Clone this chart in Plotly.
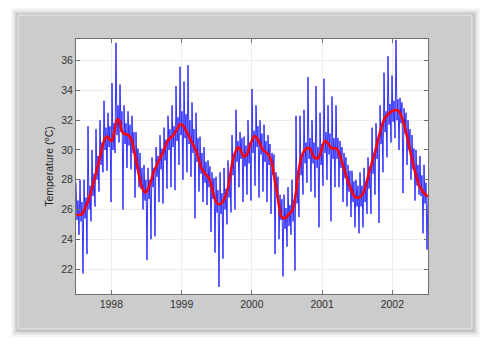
import numpy as np
import plotly.graph_objects as go

# Sea-surface temperature record sampled every ~5 days, deg C
daily_temp = [
    # mid 1997 - mid 1998
    27.8, 25.3, 26.6, 24.3, 28.0, 25.2, 26.5, 21.7, 28.0, 25.4, 26.8, 23.0,
    31.6, 26.0, 27.6, 25.2, 30.0, 26.9, 28.4, 26.2, 31.4, 28.0, 29.6, 27.2,
    32.0, 29.0, 30.5, 28.5, 33.3, 30.0, 31.5, 28.6, 32.5, 30.2, 31.6, 26.5,
    34.5, 30.0, 31.8, 29.8, 37.2, 31.0, 33.0, 30.5, 34.4, 31.2, 32.6, 26.0,
    33.0, 30.4, 31.8, 28.8, 32.6, 30.3, 31.7, 28.7, 32.3, 29.8, 31.2, 26.8,
    31.2, 28.7, 30.1, 27.5, 29.8, 27.4, 28.8, 26.0, 29.0, 26.6, 28.0, 22.6,
    28.8, 26.7, 28.0, 24.0,
    # mid 1998 - mid 1999
    29.5, 27.5, 28.8, 24.2, 30.2, 28.2, 29.6, 26.5, 31.0, 28.7, 30.1, 26.4,
    31.5, 29.3, 30.7, 27.4, 32.3, 30.0, 31.4, 27.5, 33.0, 30.2, 31.6, 27.3,
    34.3, 30.6, 32.2, 29.0, 35.6, 31.0, 32.6, 28.0, 34.6, 30.8, 32.4, 28.5,
    35.7, 30.4, 32.0, 28.2, 33.2, 29.8, 31.4, 25.4, 32.5, 29.2, 30.8, 27.2,
    30.9, 28.4, 29.8, 26.5, 30.2, 27.8, 29.2, 26.3, 29.3, 27.5, 28.9, 24.5,
    28.5, 26.7, 28.1, 23.1, 28.2, 25.8, 27.3, 20.8, 28.5, 25.7, 27.1, 22.7,
    # mid 1999 - mid 2000
    28.8, 26.0, 27.4, 25.0, 29.3, 26.8, 28.2, 25.8, 31.0, 28.3, 29.7, 26.0,
    32.7, 29.2, 30.6, 27.5, 31.2, 29.4, 30.8, 26.5, 30.9, 28.9, 30.3, 27.0,
    32.0, 29.1, 30.5, 26.6, 34.1, 29.8, 31.3, 27.6, 33.0, 30.2, 31.6, 26.8,
    32.0, 29.7, 31.1, 27.2, 31.7, 29.2, 30.6, 26.5, 31.0, 29.0, 30.4, 25.7,
    29.8, 28.3, 29.7, 23.0, 28.5, 26.8, 28.2, 24.0, 27.0, 25.3, 26.7, 21.5,
    27.0, 24.7, 26.1, 23.5, 27.5, 24.9, 26.3, 24.3, 28.0, 25.2, 26.6, 21.9,
    # mid 2000 - mid 2001
    32.3, 26.4, 27.8, 25.5, 32.3, 28.3, 29.7, 27.0, 32.7, 29.1, 30.5, 27.8,
    34.9, 29.4, 30.8, 27.2, 32.0, 29.1, 30.5, 26.8, 34.3, 28.8, 30.2, 24.8,
    32.5, 29.0, 30.4, 27.6, 34.8, 29.8, 31.2, 28.0, 33.0, 29.7, 31.1, 25.2,
    33.6, 29.4, 30.8, 27.5, 33.0, 29.4, 30.8, 27.5, 30.6, 28.8, 30.2, 26.5,
    29.8, 28.1, 29.5, 26.2, 29.0, 27.2, 28.6, 25.5, 28.6, 26.5, 27.9, 24.8,
    28.0, 26.2, 27.6, 24.4, 28.5, 26.2, 27.6, 24.8, 28.8, 26.5, 27.9, 25.7,
    # mid 2001 - mid 2002
    29.5, 27.4, 28.8, 25.7, 31.5, 28.4, 29.8, 27.0, 31.8, 29.4, 30.8, 25.1,
    33.0, 30.4, 31.8, 28.5, 35.2, 31.2, 32.6, 29.5, 36.3, 31.7, 33.1, 30.5,
    35.0, 31.9, 33.3, 30.8, 37.4, 32.0, 33.4, 30.0, 33.5, 31.8, 33.2, 27.1,
    32.8, 31.1, 32.5, 29.0, 32.0, 30.0, 31.4, 28.0, 31.0, 28.7, 30.1, 26.6,
    30.0, 27.6, 29.0, 27.0, 29.6, 26.9, 28.3, 24.4, 29.0, 26.4, 27.8, 23.3,
    27.0,
]
record_start, record_end = 1997.497, 2002.508

# Low-pass filtered temperature (seasonal signal)
smooth_year = [
    1997.502, 1997.578, 1997.626, 1997.697, 1997.768, 1997.839, 1997.910,
    1997.943, 1997.981, 1998.005, 1998.043, 1998.085, 1998.114, 1998.147,
    1998.180, 1998.242, 1998.289, 1998.336, 1998.384, 1998.431, 1998.488,
    1998.536, 1998.597, 1998.668, 1998.739, 1998.810, 1998.882, 1998.929,
    1998.976, 1999.014, 1999.071, 1999.142, 1999.213, 1999.284, 1999.332,
    1999.393, 1999.450, 1999.507, 1999.555, 1999.602, 1999.664, 1999.711,
    1999.758, 1999.806, 1999.839, 1999.886, 1999.934, 1999.981, 2000.043,
    2000.090, 2000.161, 2000.232, 2000.280, 2000.327, 2000.374, 2000.422,
    2000.469, 2000.517, 2000.578, 2000.626, 2000.668, 2000.716, 2000.777,
    2000.825, 2000.882, 2000.943, 2000.991, 2001.038, 2001.085, 2001.133,
    2001.204, 2001.275, 2001.346, 2001.417, 2001.464, 2001.521, 2001.583,
    2001.630, 2001.678, 2001.749, 2001.820, 2001.891, 2001.962, 2002.033,
    2002.090, 2002.142, 2002.199, 2002.256, 2002.318, 2002.379, 2002.436,
    2002.502,
]
smooth_temp = [
    25.63, 25.67, 26.08, 26.97, 28.20, 29.55, 30.78, 30.90, 30.67, 30.60,
    31.23, 32.06, 32.00, 31.30, 31.10, 31.00, 30.67, 29.66, 28.54, 27.53,
    27.13, 27.53, 28.43, 29.21, 29.88, 30.67, 31.00, 31.34, 31.72, 31.68,
    31.23, 30.56, 29.88, 28.76, 28.43, 28.09, 27.08, 26.41, 26.37, 26.64,
    27.53, 28.88, 29.77, 30.18, 30.00, 29.55, 29.73, 30.44, 30.94, 30.67,
    30.00, 29.73, 29.21, 27.98, 26.64, 25.52, 25.40, 25.63, 25.96, 27.08,
    28.65, 29.66, 30.11, 30.11, 29.55, 29.44, 30.00, 30.62, 30.44, 30.11,
    30.11, 29.32, 28.20, 27.31, 26.86, 26.79, 27.08, 27.76, 28.65, 29.77,
    31.12, 32.12, 32.50, 32.68, 32.62, 32.12, 31.12, 29.88, 28.65, 27.64,
    27.20, 26.86,
]

year_ticks = [1998, 1999, 2000, 2001, 2002]
temp_ticks = [22, 24, 26, 28, 30, 32, 34, 36]

daily_year = np.linspace(record_start, record_end, len(daily_temp))

fig = go.Figure()
fig.add_trace(go.Scatter(
    x=daily_year, y=daily_temp, mode="lines",
    line=dict(color="rgba(0,0,255,0.78)", width=1.0),
    hoverinfo="skip", showlegend=False,
))
fig.add_trace(go.Scatter(
    x=smooth_year, y=smooth_temp, mode="lines",
    line=dict(color="#ff0000", width=2.6, shape="spline", smoothing=0.8),
    showlegend=False,
))

# Page furniture: soft shadow, gray card, white axes box (pixel -> paper units)
L, R, T, B = 76, 428, 39, 294
W, H = R - L, B - T


def px(x):
    return (x - L) / W


def py(y):
    return (B - y) / H


shapes = []
for grow, alpha in [(7, 0.05), (5, 0.07), (3, 0.10), (1.5, 0.14)]:
    shapes.append(dict(
        type="rect", xref="paper", yref="paper", layer="below",
        x0=px(18 - grow), x1=px(472 + grow + 1), y0=py(329 + grow + 1), y1=py(15 - grow),
        fillcolor=f"rgba(60,60,60,{alpha})", line=dict(width=0),
    ))
shapes.append(dict(
    type="rect", xref="paper", yref="paper", layer="below",
    x0=px(18), x1=px(472), y0=py(329), y1=py(15),
    fillcolor="#cccccc", line=dict(color="#e9e9e9", width=1),
))
shapes.append(dict(
    type="rect", xref="paper", yref="paper", layer="below",
    x0=0, x1=1, y0=0, y1=1, fillcolor="#ffffff", line=dict(width=0),
))

axis_common = dict(
    showline=True, linecolor="#707070", linewidth=1, mirror="ticks",
    ticks="inside", ticklen=4, tickcolor="#707070",
    showgrid=True, gridcolor="#ececec", gridwidth=1, zeroline=False,
    tickfont=dict(family="Liberation Sans, Arial, sans-serif", size=10.5, color="#333333"),
)

fig.update_layout(
    width=488, height=344,
    margin=dict(l=L, r=488 - R, t=T, b=344 - B),
    paper_bgcolor="#ffffff", plot_bgcolor="#ffffff",
    shapes=shapes,
    xaxis=dict(range=[record_start, record_end], tickvals=year_ticks,
               ticktext=[str(y) for y in year_ticks], **axis_common),
    yaxis=dict(range=[20.32, 37.46], tickvals=temp_ticks,
               title=dict(text="Temperature (<sup>o</sup>C)", standoff=5,
                          font=dict(family="Liberation Sans, Arial, sans-serif",
                                    size=10.5, color="#222222")),
               **axis_common),
)

fig.write_html("out.html")
